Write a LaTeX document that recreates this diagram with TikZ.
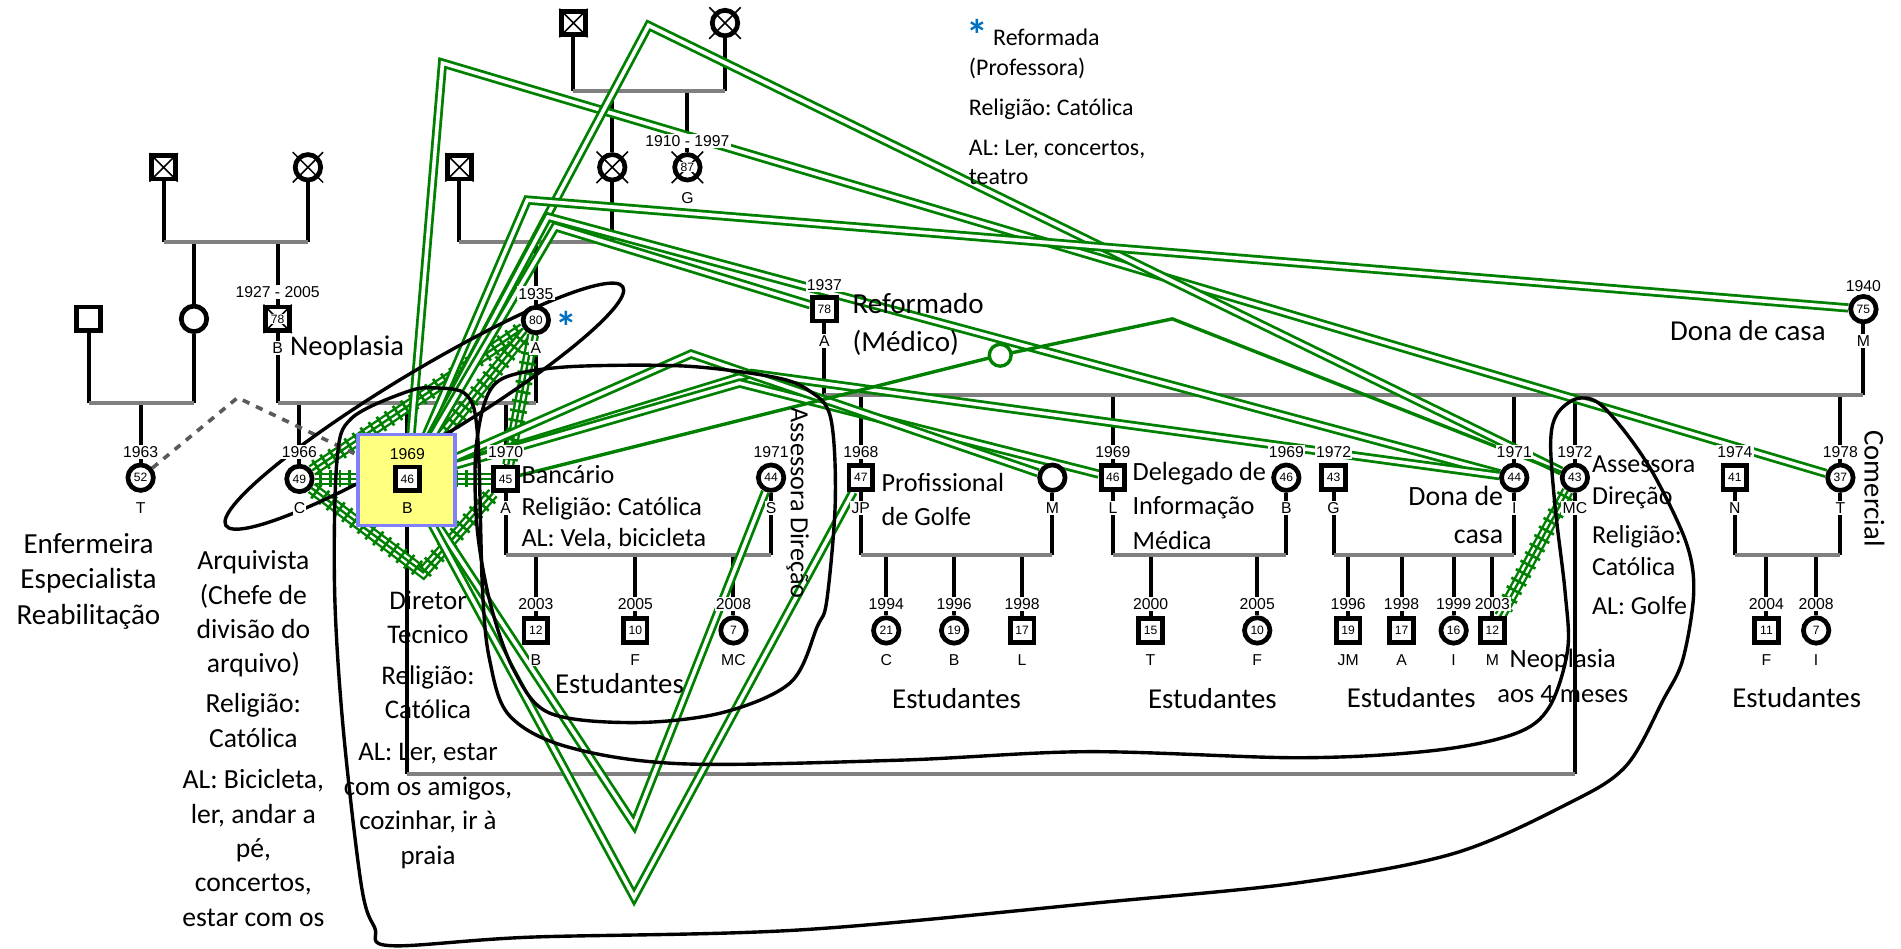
\documentclass[tikz,border=0pt]{standalone}
\usepackage{fontspec}
\setmainfont{Carlito}
\newfontfamily\labfont{Liberation Sans}
\usetikzlibrary{decorations.markings}
\pgfdeclarelayer{famlayer}
\pgfdeclarelayer{rellayer}
\pgfdeclarelayer{hhlayer}
\pgfsetlayers{famlayer,rellayer,hhlayer,main}
\definecolor{grn}{RGB}{0,128,0}
\definecolor{famgray}{RGB}{128,128,128}
\definecolor{idxfill}{RGB}{255,255,128}
\definecolor{idxline}{RGB}{128,128,255}
\definecolor{starblue}{RGB}{0,112,192}
\definecolor{dashgray}{RGB}{90,90,90}
\newcommand\agefont{\labfont\fontsize{10}{10}\selectfont}
\newcommand\yrfont{\labfont\fontsize{13}{13}\selectfont}
\tikzset{
  msq/.style={draw, line width=3.9pt, fill=white, minimum size=19.5pt, inner sep=0pt, font=\agefont},
  fci/.style={circle, draw, line width=3.9pt, fill=white, minimum size=21pt, inner sep=0pt, font=\agefont},
  agetag/.style={fill=white, inner sep=0.6pt, font=\agefont},
  yr/.style={font=\yrfont, fill=white, inner sep=1pt, text height=9.4pt, text depth=0pt},
  yrn/.style={font=\yrfont, inner sep=1pt, text height=9.4pt, text depth=0pt},
  fam/.style={draw=famgray, line width=3.3pt},
  kin/.style={draw=black, line width=3.3pt},
  xmark/.style={draw=black, line width=1.3pt},
  closeline/.style={draw=grn, double=white, double distance=3pt, line width=2.3pt},
  fusedline/.style={draw=grn, line width=2pt,
    preaction={draw=grn, line width=10pt},
    preaction={draw=white, line width=6pt},
    postaction={decorate, decoration={markings,
      mark=between positions 5pt and -5pt step 8pt with {\draw[grn, line width=2.2pt] (0pt,-7pt) -- (0pt,7pt);}}}},
  hostile/.style={draw=grn, line width=2.8pt},
  hh/.style={draw=black, line width=2.8pt},
  txt/.style={inner sep=0pt, align=center},
  idxbox/.style={draw=idxline, fill=idxfill, line width=3pt, minimum width=80pt, minimum height=75pt, inner sep=0pt},
  stud/.style={inner sep=0pt, font=\fontsize{23.8}{28}\selectfont},
  starmark/.style={text=starblue, font=\bfseries\fontsize{36}{36}\selectfont, inner sep=0pt},
}
\begin{document}
\frenchspacing
\begin{tikzpicture}[x=1pt,y=-1pt]
\useasboundingbox (0,0) rectangle (1568,782);

% ---------- family line levels ----------
\coordinate (lvMat0) at (0,75);
\coordinate (lvGP) at (0,200);
\coordinate (lvPar) at (0,332);
\coordinate (lvInl) at (0,326);
\coordinate (lvKids) at (0,458);
\coordinate (lvMar) at (0,638);

% ---------- paternal side ----------
\node[msq] (pgf) at (135,138) {};
\node[fci] (pgm) at (254,138) {};
\node[fci] (aunt) at (160,263) {};
\node[msq] (auntH) at (73,263) {};
\node[msq] (fath) at (229,263) {};
\draw[xmark] (pgf.north west) -- (pgf.south east) (pgf.north east) -- (pgf.south west);
\draw[xmark] ([shift={(-12.5,-12.5)}]pgm.center) -- ([shift={(12.5,12.5)}]pgm.center)
             ([shift={(12.5,-12.5)}]pgm.center) -- ([shift={(-12.5,12.5)}]pgm.center);
\draw[xmark] (fath.north west) -- (fath.south east) (fath.north east) -- (fath.south west);
\node[agetag] (fathAge) at (fath) {78};
\node[yr] (fathYr) at (229,241) {1927 - 2005};
\node[yr] (fathLt) at (229,287) {B};
\node[anchor=west, fill=white, inner sep=1pt, font=\fontsize{23.5}{28}\selectfont] (tNeo1) at (238,287) {Neoplasia};

% ---------- maternal side ----------
\node[msq] (mgf) at (473,19) {};
\node[fci] (mgm) at (598,19) {};
\node[fci] (gma) at (505,138) {};
\node[fci] (gAunt) at (567,138) {};
\node[msq] (gpa) at (379,138) {};
\draw[xmark] (mgf.north west) -- (mgf.south east) (mgf.north east) -- (mgf.south west);
\draw[xmark] (gpa.north west) -- (gpa.south east) (gpa.north east) -- (gpa.south west);
\foreach \p in {mgm,gma,gAunt}{
  \draw[xmark] ([shift={(-13,-13)}]\p.center) -- ([shift={(13,13)}]\p.center)
               ([shift={(13,-13)}]\p.center) -- ([shift={(-13,13)}]\p.center);
}
\node[agetag] (gAuntAge) at (gAunt) {87};
\node[yr] (gAuntYr) at (567,116) {1910 - 1997};
\node[yr] (gAuntLt) at (567,163) {G};
\node[fci] (moth) at (442,264) {80};
\node[yr] (mothYr) at (442,242) {1935};
\node[yr] (mothLt) at (442,287) {A};
\node[starmark] (mothStar) at (467,270) {*};

% ---------- siblings and cousin ----------
\node[fci] (cousT) at (116,394) {52};
\node[yr] (cousTYr) at (116,373) {1963};
\node[yr] (cousTLt) at (116,419) {T};
\node[fci] (sisC) at (247,395) {49};
\node[yr] (sisCYr) at (247,373) {1966};
\node[yr] (sisCLt) at (247,419) {C};
\node[idxbox] (box) at (335.5,396) {};
\node[msq] (idx) at (336,395) {46};
\node[yrn] (idxYr) at (336,374) {1969};
\node[yrn] (idxLt) at (336,419) {B};
\node[msq] (broA) at (417,395) {45};
\node[yr] (broAYr) at (417,373) {1970};
\node[yr] (broALt) at (417,419) {A};
\node[fci] (sisS) at (636,394) {44};
\node[yr] (sisSYr) at (636,373) {1971};
\node[yr] (sisSLt) at (636,419) {S};
\node[msq] (kB03) at (442,520) {12};
\node[yr] (kB03Yr) at (442,498) {2003};
\node[yr] (kB03Lt) at (442,544) {B};
\node[msq] (kF05) at (524,520) {10};
\node[yr] (kF05Yr) at (524,498) {2005};
\node[yr] (kF05Lt) at (524,544) {F};
\node[fci] (kMC08) at (605,520) {7};
\node[yr] (kMC08Yr) at (605,498) {2008};
\node[yr] (kMC08Lt) at (605,544) {MC};

% ---------- in-laws ----------
\node[msq] (wfa) at (680,255) {78};
\node[yr] (wfaYr) at (680,235) {1937};
\node[yr] (wfaLt) at (680,281) {A};
\node[fci] (wmo) at (1537,255) {75};
\node[yr] (wmoYr) at (1537,236) {1940};
\node[yr] (wmoLt) at (1537,281) {M};

\node[msq] (JP) at (710,394) {47};
\node[yr] (JPYr) at (710,373) {1968};
\node[yr] (JPLt) at (710,419) {JP};
\node[fci] (JPw) at (868,394) {};
\node[yr] (JPwLt) at (868,419) {M};
\node[fci] (kC94) at (731,520) {21};
\node[yr] (kC94Yr) at (731,498) {1994};
\node[yr] (kC94Lt) at (731,544) {C};
\node[fci] (kB96) at (787,520) {19};
\node[yr] (kB96Yr) at (787,498) {1996};
\node[yr] (kB96Lt) at (787,544) {B};
\node[msq] (kL98) at (843,520) {17};
\node[yr] (kL98Yr) at (843,498) {1998};
\node[yr] (kL98Lt) at (843,544) {L};

\node[msq] (L69) at (918,394) {46};
\node[yr] (L69Yr) at (918,373) {1969};
\node[yr] (L69Lt) at (918,419) {L};
\node[fci] (B69) at (1061,394) {46};
\node[yr] (B69Yr) at (1061,373) {1969};
\node[yr] (B69Lt) at (1061,419) {B};
\node[msq] (kT00) at (949,520) {15};
\node[yr] (kT00Yr) at (949,498) {2000};
\node[yr] (kT00Lt) at (949,544) {T};
\node[fci] (kF05b) at (1037,520) {10};
\node[yr] (kF05bYr) at (1037,498) {2005};
\node[yr] (kF05bLt) at (1037,544) {F};

\node[msq] (G72) at (1100,394) {43};
\node[yr] (G72Yr) at (1100,373) {1972};
\node[yr] (G72Lt) at (1100,419) {G};
\node[fci] (I71) at (1249,394) {44};
\node[yr] (I71Yr) at (1249,373) {1971};
\node[yr] (I71Lt) at (1249,419) {I};
\node[msq] (kJM96) at (1112,520) {19};
\node[yr] (kJM96Yr) at (1112,498) {1996};
\node[yr] (kJM96Lt) at (1112,544) {JM};
\node[msq] (kA98) at (1156,520) {17};
\node[yr] (kA98Yr) at (1156,498) {1998};
\node[yr] (kA98Lt) at (1156,544) {A};
\node[fci] (kI99) at (1199,520) {16};
\node[yr] (kI99Yr) at (1199,498) {1999};
\node[yr] (kI99Lt) at (1199,544) {I};
\node[msq] (kM03) at (1231,520) {12};
\node[yr] (kM03Yr) at (1231,498) {2003};
\node[yr] (kM03Lt) at (1231,544) {M};

\node[fci] (MC72) at (1299,394) {43};
\node[yr] (MC72Yr) at (1299,373) {1972};
\node[yr] (MC72Lt) at (1299,419) {MC};

\node[msq] (N74) at (1431,394) {41};
\node[yr] (N74Yr) at (1431,373) {1974};
\node[yr] (N74Lt) at (1431,419) {N};
\node[fci] (T78) at (1518,394) {37};
\node[yr] (T78Yr) at (1518,373) {1978};
\node[yr] (T78Lt) at (1518,419) {T};
\node[msq] (kF04) at (1457,520) {11};
\node[yr] (kF04Yr) at (1457,498) {2004};
\node[yr] (kF04Lt) at (1457,544) {F};
\node[fci] (kI08) at (1498,520) {7};
\node[yr] (kI08Yr) at (1498,498) {2008};
\node[yr] (kI08Lt) at (1498,544) {I};

% ---------- free text ----------
\node[txt, anchor=north, font=\fontsize{24}{29}\selectfont] (tEnf) at (73,440) {Enfermeira\\Especialista\\Reabilitação};
\node[txt, anchor=north, font=\fontsize{22.8}{28.3}\selectfont] (tArq) at (209,454)
  {Arquivista\\(Chefe de\\divisão do\\arquivo)\\[5pt]Religião:\\Católica\\[6pt]AL: Bicicleta,\\ler, andar a\\pé,\\concertos,\\estar com os};
\node[txt, anchor=north, font=\fontsize{22.2}{28.5}\selectfont] (tDir) at (353,487)
  {Diretor\\Tecnico\\[5pt]Religião:\\Católica\\[6pt]AL: Ler, estar\\com os amigos,\\cozinhar, ir à\\praia};
\node[txt, anchor=north west, align=left, font=\fontsize{21.6}{26}\selectfont] (tBan) at (430,384)
  {Bancário\\Religião: Católica\\AL: Vela, bicicleta};
\node[txt, anchor=north west, align=left, font=\fontsize{21.6}{28}\selectfont] (tJP) at (727,390) {Profissional\\de Golfe};
\node[txt, anchor=north west, align=left, font=\fontsize{21.7}{28.5}\selectfont] (tL) at (934,381) {Delegado de\\Informação\\Médica};
\node[txt, anchor=north east, align=right, font=\fontsize{23}{31}\selectfont] (tI) at (1240,401) {Dona de\\casa};
\node[txt, anchor=north west, align=left, font=\fontsize{21.4}{26.5}\selectfont] (tMC) at (1313,376)
  {Assessora\\Direção\\[5pt]Religião:\\Católica\\[6pt]AL: Golfe};
\node[txt, anchor=north, font=\fontsize{21.9}{29}\selectfont] (tNeo2) at (1289,535) {Neoplasia\\aos 4 meses};
\node[txt, anchor=north west, align=left, font=\fontsize{24}{31}\selectfont] (tRef) at (703,242) {Reformado\\(Médico)};
\node[txt, anchor=east, font=\fontsize{23.8}{28}\selectfont] (tDona) at (1506,273) {Dona de casa};
\node[txt, rotate=-90, font=\fontsize{23.6}{28}\selectfont] (tCom) at (1546,403) {Comercial};
\node[txt, rotate=-90, font=\fontsize{21.6}{26}\selectfont] (tAss) at (658,415) {Assessora Direção};
\node[stud] (stud1) at (511,564) {Estudantes};
\node[stud] (stud2) at (789,576) {Estudantes};
\node[stud] (stud3) at (1000,576) {Estudantes};
\node[stud] (stud4) at (1164,575) {Estudantes};
\node[stud] (stud5) at (1482,575) {Estudantes};

% legend
\node[starmark] (legStar) at (806,29) {*};
\node[txt, anchor=north west, align=left, font=\fontsize{19.7}{24}\selectfont] (legTxt) at (799,24)
  {\hspace{20pt}Reformada\\(Professora)\\[9pt]Religião: Católica\\[9pt]AL: Ler, concertos,\\teatro};

% ---------- family lines ----------
\begin{pgfonlayer}{famlayer}
  % paternal grandparents
  \draw[kin] (pgf) -- (pgf |- lvGP) (pgm) -- (pgm |- lvGP);
  \draw[kin] (aunt) -- (aunt |- lvGP) (fath) -- (fath |- lvGP);
  \draw[fam] (pgf |- lvGP) -- (pgm |- lvGP);
  % aunt and husband
  \draw[kin] (auntH) -- (auntH |- lvPar) (aunt) -- (aunt |- lvPar) (cousT) -- (cousT |- lvPar);
  \draw[fam] (auntH |- lvPar) -- (aunt |- lvPar);
  % maternal great-grandparents
  \draw[kin] (mgf) -- (mgf |- lvMat0) (mgm) -- (mgm |- lvMat0);
  \draw[kin] (gma) -- (gma |- lvMat0) (gAunt) -- (gAunt |- lvMat0);
  \draw[fam] (mgf |- lvMat0) -- (mgm |- lvMat0);
  % maternal grandparents
  \draw[kin] (gpa) -- (gpa |- lvGP) (gma) -- (gma |- lvGP) (moth) -- (moth |- lvGP);
  \draw[fam] (gpa |- lvGP) -- (gma |- lvGP);
  % parents
  \draw[kin] (fath) -- (fath |- lvPar) (moth) -- (moth |- lvPar);
  \draw[kin] (sisC) -- (sisC |- lvPar) (idx) -- (idx |- lvPar) (broA) -- (broA |- lvPar);
  \draw[fam] (fath |- lvPar) -- (moth |- lvPar);
  % brother A and S
  \draw[kin] (broA) -- (broA |- lvKids) (sisS) -- (sisS |- lvKids);
  \draw[kin] (kB03) -- (kB03 |- lvKids) (kF05) -- (kF05 |- lvKids) (kMC08) -- (kMC08 |- lvKids);
  \draw[fam] (broA |- lvKids) -- (sisS |- lvKids);
  % parents-in-law
  \draw[kin] (wfa) -- (wfa |- lvInl) (wmo) -- (wmo |- lvInl);
  \draw[kin] (JP) -- (JP |- lvInl) (L69) -- (L69 |- lvInl) (I71) -- (I71 |- lvInl)
             (MC72) -- (MC72 |- lvInl) (T78) -- (T78 |- lvInl);
  \draw[fam] (wfa |- lvInl) -- (wmo |- lvInl);
  % JP and M
  \draw[kin] (JP) -- (JP |- lvKids) (JPw) -- (JPw |- lvKids);
  \draw[kin] (kC94) -- (kC94 |- lvKids) (kB96) -- (kB96 |- lvKids) (kL98) -- (kL98 |- lvKids);
  \draw[fam] (JP |- lvKids) -- (JPw |- lvKids);
  % L and B
  \draw[kin] (L69) -- (L69 |- lvKids) (B69) -- (B69 |- lvKids);
  \draw[kin] (kT00) -- (kT00 |- lvKids) (kF05b) -- (kF05b |- lvKids);
  \draw[fam] (L69 |- lvKids) -- (B69 |- lvKids);
  % G and I
  \draw[kin] (G72) -- (G72 |- lvKids) (I71) -- (I71 |- lvKids);
  \draw[kin] (kJM96) -- (kJM96 |- lvKids) (kA98) -- (kA98 |- lvKids) (kI99) -- (kI99 |- lvKids) (kM03) -- (kM03 |- lvKids);
  \draw[fam] (G72 |- lvKids) -- (I71 |- lvKids);
  % N and T
  \draw[kin] (N74) -- (N74 |- lvKids) (T78) -- (T78 |- lvKids);
  \draw[kin] (kF04) -- (kF04 |- lvKids) (kI08) -- (kI08 |- lvKids);
  \draw[fam] (N74 |- lvKids) -- (T78 |- lvKids);
  % index and MC
  \draw[kin] (idx) -- (idx |- lvMar) (MC72) -- (MC72 |- lvMar);
  \draw[fam] (idx |- lvMar) -- (MC72 |- lvMar);
\end{pgfonlayer}

% ---------- emotional relationships ----------
\begin{pgfonlayer}{rellayer}
  \draw[fusedline] (sisC) -- (idx);
  \draw[fusedline] (idx) -- (broA);
  \draw[fusedline] (sisC) -- (moth);
  \draw[fusedline] (idx) -- (moth);
  \draw[fusedline] (broA) -- (moth);
  \draw[fusedline] (sisC) -- (349,472) -- (broA);
  \draw[fusedline] (MC72) -- (kM03);

  \draw[closeline] (idx) -- (365,52) -- (T78);
  \draw[closeline] (idx) -- (535,21) -- (MC72);
  \draw[closeline] (idx) -- (435,165) -- (wmo);
  \draw[closeline] (idx) -- (452,179) -- (I71);
  \draw[closeline] (idx) -- (458,187) -- (wfa);
  \draw[closeline] (idx) -- (620,308) -- (I71);
  \draw[closeline] (idx) -- (610,316) -- (L69);
  \draw[closeline] (idx) -- (570,292) -- (JPw);
  \draw[closeline] (idx) -- (523,680) -- (sisS);
  \draw[closeline] (idx) -- (523,740) -- (JP);

  \draw[hostile] (broA) -- (825,293) -- (967,263) -- (MC72);
  \node[circle, draw=grn, fill=white, line width=2.8pt, minimum size=18pt, inner sep=0pt] (hostC) at (825,293) {};

  \draw[dashgray, line width=3pt, dash pattern=on 6pt off 6pt] (cousT) -- (196,328) -- (idx);
\end{pgfonlayer}

% ---------- household outlines ----------
\begin{pgfonlayer}{hhlayer}
  \draw[hh, rotate around={31:(350,335)}] (350,335) ellipse [x radius=191, y radius=29];
  \draw[hh] plot[smooth cycle, tension=0.55] coordinates {
    (336,323) (360,320) (385,326) (394,360) (398,487) (404,545) (420,590) (468,616)
    (563,630) (742,627) (897,620) (1072,625) (1183,619) (1250,605) (1278,583) (1293,536)
    (1291,489) (1283,421) (1279,366) (1284,342) (1300,329) (1318,332) (1341,357) (1365,393)
    (1391,448) (1397,489) (1388,544) (1372,577) (1341,632) (1293,663) (1199,704) (1072,728)
    (912,744) (660,767) (437,773) (322,780) (309,765) (298,730) (283,600) (276,487) (278,379) (290,345)};
  \draw[hh] plot[smooth cycle, tension=0.55] coordinates {
    (398,338) (409,316) (432,307) (479,302) (566,302) (638,311) (667,322) (685,344)
    (689,412) (682,495) (674,517) (652,563) (595,588) (522,596) (453,588) (424,553)
    (405,500) (394,440) (392,380)};
\end{pgfonlayer}
\end{tikzpicture}
\end{document}
